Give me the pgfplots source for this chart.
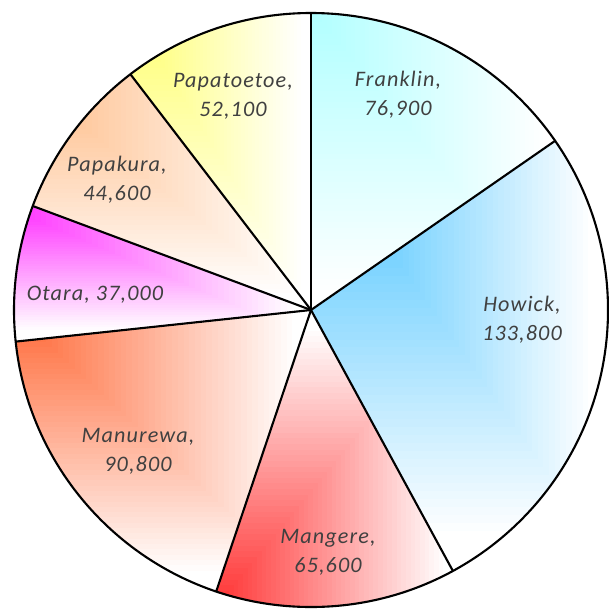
\documentclass[border=0pt]{standalone}
\usepackage{pgfplots}
\usepackage{pgfplotstable}
\pgfplotsset{compat=1.18}
\usepackage{fontspec}
\newfontfamily\lab[LetterSpace=5]{Carlito}

\definecolor{labgray}{HTML}{404040}
\definecolor{cFr}{HTML}{B0FFFF}
\definecolor{cHo}{HTML}{40C0FF}
\definecolor{cMa}{HTML}{FF3030}
\definecolor{cMr}{HTML}{FF6633}
\definecolor{cOt}{HTML}{FF33FF}
\definecolor{cPk}{HTML}{FFB880}
\definecolor{cPt}{HTML}{FFFF70}

% values in thousands
\pgfplotstableread{
name value
Franklin 76.9
Howick 133.8
Mangere 65.6
Manurewa 90.8
Otara 37.0
Papakura 44.6
Papatoetoe 52.1
}\piedata

% #1 index, #2 colour, #3/#4 gradient corner, #5/#6 signed gradient extent
\newcommand\slice[6]{%
  \begin{scope}
    \clip (311,298) -- ({311+297*cos(\csname pieB#1\endcsname)},{298+297*sin(\csname pieB#1\endcsname)})
      arc[start angle=\csname pieB#1\endcsname, end angle=\csname pieA#1\endcsname, radius=2.97cm] -- cycle;
    \fill[white, overlay] (0,0) rectangle (609,608);
    \pgfplotsinvokeforeach{2,4,...,98}{%
      \fill[#2!##1!white, overlay] ({#3-0.05*#5},{#4-0.05*#6}) rectangle ({#3+#5*(1-##1/100)},{#4+#6*(1-##1/100)});
    }
  \end{scope}}
\newcommand\edge[1]{%
  \draw[black, line width=0.6pt] (311,298) -- ({311+297*cos(\csname pieA#1\endcsname)},{298+297*sin(\csname pieA#1\endcsname)});}

\begin{document}
\begin{tikzpicture}
\def\total{0}%
\foreach \i in {0,...,6}{%
  \pgfplotstablegetelem{\i}{value}\of\piedata
  \pgfmathsetmacro\tmp{\total+\pgfplotsretval}\xdef\total{\tmp}}%
\def\cum{0}%
\foreach \i in {0,...,6}{%
  \pgfmathsetmacro\angb{90-\cum/\total*360}%
  \expandafter\xdef\csname pieB\i\endcsname{\angb}%
  \pgfplotstablegetelem{\i}{value}\of\piedata
  \pgfmathsetmacro\tmp{\cum+\pgfplotsretval}\xdef\cum{\tmp}%
  \pgfmathsetmacro\anga{90-\cum/\total*360}%
  \expandafter\xdef\csname pieA\i\endcsname{\anga}}%
\begin{axis}[
  width=6.09cm, height=6.08cm, scale only axis,
  xmin=0, xmax=609, ymin=0, ymax=608,
  hide axis, clip=false,
]
\coordinate (sw) at (0,0);
\coordinate (ne) at (609,608);
\slice{0}{cFr}{313}{597}{235}{-285}
\slice{1}{cHo}{313}{468}{281}{-399}
\slice{2}{cMa}{215}{0}{233}{283}
\slice{3}{cMr}{12}{298}{286}{-266}
\slice{4}{cOt}{12}{398}{286}{-122}
\slice{5}{cPk}{12}{538}{286}{-228}
\slice{6}{cPt}{130}{597}{174}{-285}
\edge{0}\edge{1}\edge{2}\edge{3}\edge{4}\edge{5}\edge{6}
\draw[black, line width=0.6pt] (311,298) circle[radius=2.97cm];
\tikzset{lbl/.style={align=center, text=labgray, inner sep=0pt,
  font=\lab\itshape\fontsize{6.3pt}{8.25pt}\selectfont}}
\node[lbl] at (398,513) {Franklin,\\76,900};
\node[lbl] at (522,288) {Howick,\\133,800};
\node[lbl] at (328,56) {Mangere,\\65,600};
\node[lbl] at (138,157) {Manurewa,\\90,800};
\node[lbl] at (95,313) {Otara, 37,000};
\node[lbl] at (117,428) {Papakura,\\44,600};
\node[lbl] at (233,512) {Papatoetoe,\\52,100};
\end{axis}
\pgfresetboundingbox
\path[use as bounding box] (sw) rectangle (ne);
\end{tikzpicture}
\end{document}
